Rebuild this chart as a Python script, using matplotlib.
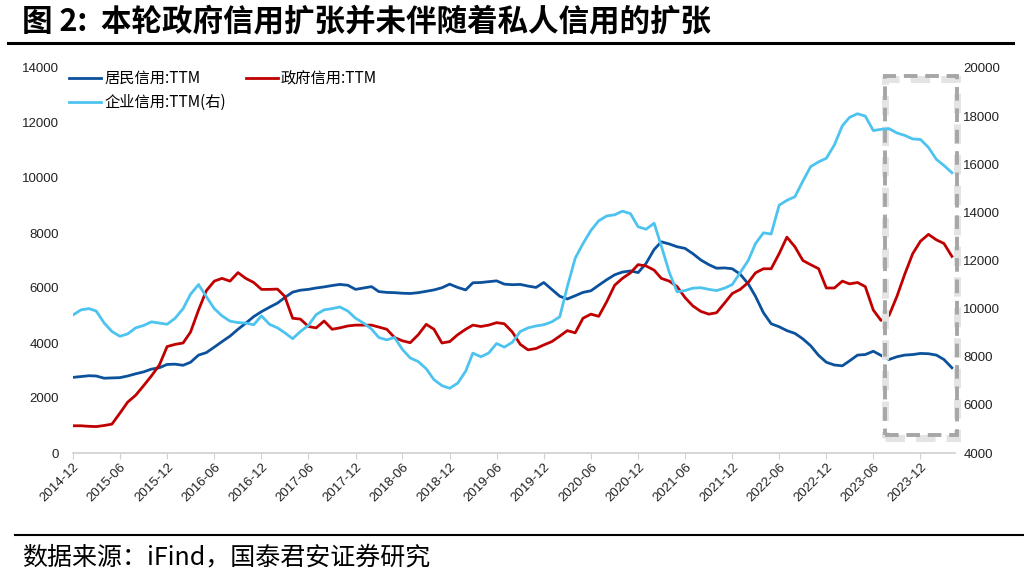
import numpy as np
import pandas as pd
import matplotlib
matplotlib.use("Agg")
import matplotlib.pyplot as plt
import matplotlib.dates as mdates
from matplotlib.patches import Rectangle

plt.rcParams['font.family'] = ['Liberation Sans', 'Noto Sans CJK SC', 'DejaVu Sans']

# 月度数据 2014-12 ~ 2024-04
dates = pd.date_range("2014-12-01", periods=113, freq="MS")

household = [2750, 2780, 2810, 2800, 2720, 2730, 2740, 2800, 2880, 2950,
             3050, 3100, 3220, 3230, 3190, 3300, 3560, 3650, 3850, 4050,
             4250, 4500, 4720, 4960, 5140, 5300, 5450, 5650, 5850, 5920,
             5950, 6000, 6040, 6090, 6130, 6100, 5950, 6000, 6050, 5870,
             5840, 5830, 5810, 5800, 5830, 5880, 5930, 6010, 6140, 6020,
             5930, 6190, 6200, 6230, 6260, 6140, 6120, 6130, 6070, 6020,
             6200, 5950, 5700, 5600, 5720, 5840, 5900, 6100, 6300, 6480,
             6580, 6620, 6560, 6900, 7400, 7680, 7600, 7500, 7440, 7250,
             7020, 6850, 6720, 6730, 6700, 6500, 6150, 5700, 5100, 4700,
             4590, 4450, 4350, 4150, 3900, 3550, 3300, 3200, 3170, 3350,
             3560, 3580, 3700, 3550, 3400, 3500, 3560, 3580, 3620, 3610,
             3560, 3400, 3100]

government = [990, 990, 970, 960, 1000, 1050, 1450, 1850, 2100, 2450,
              2800, 3200, 3870, 3950, 4000, 4400, 5200, 5900, 6250, 6350,
              6250, 6560, 6350, 6200, 5950, 5950, 5960, 5700, 4900, 4870,
              4600, 4550, 4800, 4500, 4550, 4620, 4650, 4650, 4650, 4580,
              4500, 4200, 4080, 4010, 4300, 4680, 4500, 4000, 4050, 4300,
              4500, 4650, 4600, 4650, 4740, 4700, 4400, 3950, 3750, 3800,
              3930, 4050, 4250, 4450, 4370, 4900, 5050, 4970, 5500, 6100,
              6350, 6550, 6850, 6800, 6650, 6350, 6250, 6050, 5650, 5350,
              5150, 5050, 5100, 5450, 5800, 5950, 6200, 6550, 6700, 6700,
              7250, 7850, 7500, 7000, 6850, 6700, 6000, 6000, 6250, 6150,
              6200, 6050, 5200, 4820, 5000, 5700, 6500, 7250, 7700, 7950,
              7750, 7620, 7150]

corporate = [9735, 9950, 10000, 9900, 9400, 9050, 8850, 8950, 9200, 9300,
             9450, 9400, 9350, 9600, 10000, 10600, 11000, 10500, 10000, 9700,
             9480, 9420, 9400, 9330, 9700, 9350, 9200, 9000, 8750, 9050,
             9300, 9750, 9950, 10000, 10070, 9900, 9600, 9400, 9150, 8800,
             8700, 8800, 8300, 7950, 7800, 7500, 7050, 6800, 6690, 6900,
             7400, 8150, 8000, 8150, 8550, 8400, 8600, 9050, 9200, 9280,
             9330, 9450, 9660, 10900, 12100, 12700, 13250, 13650, 13850, 13900,
             14050, 13950, 13400, 13300, 13550, 12600, 11500, 10700, 10750, 10850,
             10870, 10800, 10750, 10850, 11000, 11500, 12000, 12700, 13150, 13100,
             14300, 14500, 14650, 15300, 15900, 16100, 16250, 16800, 17600, 17950,
             18100, 18000, 17400, 17450, 17480, 17300, 17200, 17050, 17030, 16700,
             16200, 15950, 15650]

labels = ["居民信用:TTM", "政府信用:TTM", "企业信用:TTM(右)"]
colors = ["#0b519c", "#c00000", "#4dc3f0"]

fig = plt.figure(figsize=(10.24, 5.82), dpi=100)
ax = fig.add_axes([73 / 1024, 1 - 453 / 582, 882 / 1024, 385 / 582])
ax2 = ax.twinx()

l1, = ax.plot(dates, household, color=colors[0], lw=2.0, label=labels[0])
l2, = ax.plot(dates, government, color=colors[1], lw=2.0, label=labels[1])
l3, = ax2.plot(dates, corporate, color=colors[2], lw=2.0, label=labels[2])

ax.set_ylim(0, 14000)
ax.set_yticks(np.arange(0, 14001, 2000))
ax2.set_ylim(4000, 20000)
ax2.set_yticks(np.arange(4000, 20001, 2000))

ax.set_xlim(dates[0], dates[-1] + pd.Timedelta(days=12))
ax.xaxis.set_major_locator(mdates.MonthLocator(bymonth=[6, 12]))
ax.xaxis.set_major_formatter(mdates.DateFormatter("%Y-%m"))
for lb in ax.get_xticklabels():
    lb.set_rotation(45)
    lb.set_ha("right")
    lb.set_rotation_mode("anchor")

for a in (ax, ax2):
    for s in a.spines.values():
        s.set_visible(False)
    a.tick_params(axis="y", length=0, labelsize=9.5, colors="#222222")
ax.spines["bottom"].set_visible(True)
ax.spines["bottom"].set_color("#d0d0d0")
ax.spines["bottom"].set_linewidth(1.2)
ax.tick_params(axis="x", length=4, color="#d0d0d0", labelsize=9.5, labelcolor="#222222", pad=2)
ax.tick_params(axis="y", pad=10)
ax2.tick_params(axis="y", pad=6)

leg = ax.legend([l1, l3, l2], [labels[0], labels[2], labels[1]], ncol=2,
                loc="upper left", bbox_to_anchor=(-0.02, 1.03), frameon=False,
                handlelength=2.1, handletextpad=0.2, columnspacing=1.3,
                labelspacing=0.45, prop={"family": ["Noto Sans CJK SC"], "size": 11})

# 虚线框（标注最近一段时间）
shadow = Rectangle((0.921, 0.038), 0.081, 0.934, transform=ax.transAxes, fill=False,
                   ec="#e4e4e4", lw=5, ls=(0, (2.8, 1.6)), clip_on=False, zorder=4)
box = Rectangle((0.921, 0.046), 0.081, 0.934, transform=ax.transAxes, fill=False,
                ec="#a6a6a6", lw=2.8, ls=(0, (3.5, 2)), clip_on=False, zorder=5)
ax.add_patch(shadow)
ax.add_patch(box)

fig.text(22 / 1024, 1 - 21 / 582, "图 2:  本轮政府信用扩张并未伴随着私人信用的扩张",
         fontsize=22, fontweight="bold", family=["Noto Sans CJK SC"], va="center", ha="left")
fig.add_artist(plt.Line2D([8 / 1024, 1013 / 1024], [1 - 43 / 582, 1 - 43 / 582],
                          color="black", lw=2.2))
fig.add_artist(plt.Line2D([15 / 1024, 1], [1 - 535 / 582, 1 - 535 / 582],
                          color="black", lw=1.5))
fig.text(22 / 1024, 1 - 557 / 582, "数据来源：iFind，国泰君安证券研究",
         fontsize=18, family=["Noto Sans CJK SC"], va="center", ha="left")

fig.savefig("out.png", dpi=100)
